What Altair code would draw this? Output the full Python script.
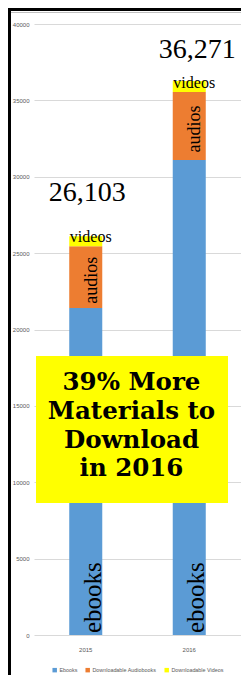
import altair as alt
import pandas as pd

years = ["2015", "2016"]
ebooks = [21400, 31100]
audiobooks = [4050, 4450]
videos = [653, 721]
totals = [26103, 36271]
series = ["Ebooks", "Downloadable Audiobooks", "Downloadable Videos"]
colors = ["#5B9BD5", "#ED7D31", "#FFFF00"]
y_ticks = [0, 5000, 10000, 15000, 20000, 25000, 30000, 35000, 40000]
total_labels = ["26,103", "36,271"]
headline = ["39% More", "Materials to", "Download", "in 2016"]

rows = []
for i, yr in enumerate(years):
    for k, (s, v) in enumerate(zip(series, [ebooks[i], audiobooks[i], videos[i]])):
        rows.append({"year": yr, "series": s, "value": v, "order": k})
bars_df = pd.DataFrame(rows)

lab_df = pd.DataFrame({
    "year": years,
    "zero": [0, 0],
    "audmid": [e + a / 2 for e, a in zip(ebooks, audiobooks)],
    "audtop": [e + a for e, a in zip(ebooks, audiobooks)],
    "total": totals,
    "tlabel": total_labels,
})

SMALL = "Liberation Sans, Arial, sans-serif"
SERIF = "Liberation Serif, Times New Roman, serif"

x_scale = alt.Scale(type="band", domain=years, paddingInner=0.681, paddingOuter=0.3405)
x_axis = alt.Axis(title=None, labelAngle=0, ticks=False, domain=False, grid=False,
                  labelFont=SMALL, labelFontSize=6, labelColor="#595959", labelPadding=11)
y_scale = alt.Scale(domain=[0, 40000], nice=False, zero=True)
y_axis = alt.Axis(title=None, values=y_ticks, format="d", ticks=False, domain=False, grid=True,
                  gridColor="#D9D9D9", gridWidth=1, labelFont=SMALL, labelFontSize=6,
                  labelColor="#595959", labelPadding=5)

def X():
    return alt.X("year:N", scale=x_scale, axis=x_axis)

bars = alt.Chart(bars_df).mark_bar().encode(
    x=X(),
    y=alt.Y("value:Q", stack="zero", scale=y_scale, axis=y_axis),
    color=alt.Color("series:N", scale=alt.Scale(domain=series, range=colors),
                    legend=alt.Legend(orient="none", legendX=18, legendY=643, direction="horizontal",
                                      columns=3, title=None, symbolType="square", symbolSize=20,
                                      symbolStrokeWidth=0, labelFont=SMALL, labelFontSize=5.4,
                                      labelColor="#595959", columnPadding=7, labelOffset=2)),
    order=alt.Order("order:Q"),
)

base = alt.Chart(lab_df)

ebook_txt = base.mark_text(font=SERIF, fontSize=25, angle=270, align="left",
                           baseline="alphabetic", dx=2, dy=15, color="#000000").encode(
    x=X(), y=alt.Y("zero:Q", scale=y_scale, axis=y_axis), text=alt.value("ebooks"))

aud_txt = base.mark_text(font=SERIF, fontSize=18, angle=270, align="center",
                         baseline="alphabetic", dx=-3, dy=11, color="#000000").encode(
    x=X(), y=alt.Y("audmid:Q", scale=y_scale, axis=y_axis), text=alt.value("audios"))

vid_txt = base.mark_text(font=SERIF, fontSize=16, align="center",
                         baseline="alphabetic", dx=5, dy=-4, color="#000000").encode(
    x=X(), y=alt.Y("audtop:Q", scale=y_scale, axis=y_axis), text=alt.value("videos"))

tot1 = base.transform_filter(alt.datum.year == "2015").mark_text(
    font=SERIF, fontSize=28, align="center", baseline="alphabetic", dx=1.5, dy=-35,
    color="#000000").encode(
    x=X(), y=alt.Y("total:Q", scale=y_scale, axis=y_axis), text="tlabel:N")

tot2 = base.transform_filter(alt.datum.year == "2016").mark_text(
    font=SERIF, fontSize=28, align="center", baseline="alphabetic", dx=8, dy=-23,
    color="#000000").encode(
    x=X(), y=alt.Y("total:Q", scale=y_scale, axis=y_axis), text="tlabel:N")

one = pd.DataFrame({"k": [0]})

box = alt.Chart(one).mark_rect(color="#FFFF00").encode(
    x=alt.value(2), x2=alt.value(194), y=alt.value(332), y2=alt.value(479))

head_txt = alt.Chart(one).mark_text(
    font="DejaVu Serif", fontWeight="bold", fontSize=24.5, lineHeight=28.8,
    align="center", baseline="alphabetic", color="#000000").encode(
    x=alt.value(97.5), y=alt.value(366), text=alt.value(headline))

left_border = alt.Chart(one).mark_rule(color="#000000", strokeWidth=3).encode(
    x=alt.value(-24.5), y=alt.value(-16), y2=alt.value(651))
top_border = alt.Chart(one).mark_rule(color="#000000", strokeWidth=3).encode(
    x=alt.value(-26), x2=alt.value(207), y=alt.value(-14.5))
top_border2 = alt.Chart(one).mark_rule(color="#BFBFBF", strokeWidth=1).encode(
    x=alt.value(-23), x2=alt.value(207), y=alt.value(-11.5))

chart = alt.layer(
    bars, ebook_txt, aud_txt, vid_txt, tot1, tot2, box, head_txt,
    left_border, top_border, top_border2
).properties(
    width=207, height=611,
    autosize=alt.AutoSizeParams(type="none"),
    padding={"left": 26, "top": 16, "right": 0, "bottom": 40},
    background="#FFFFFF",
).configure_view(stroke=None)

chart.save("out.html", embed_options={"renderer": "svg", "actions": False})
